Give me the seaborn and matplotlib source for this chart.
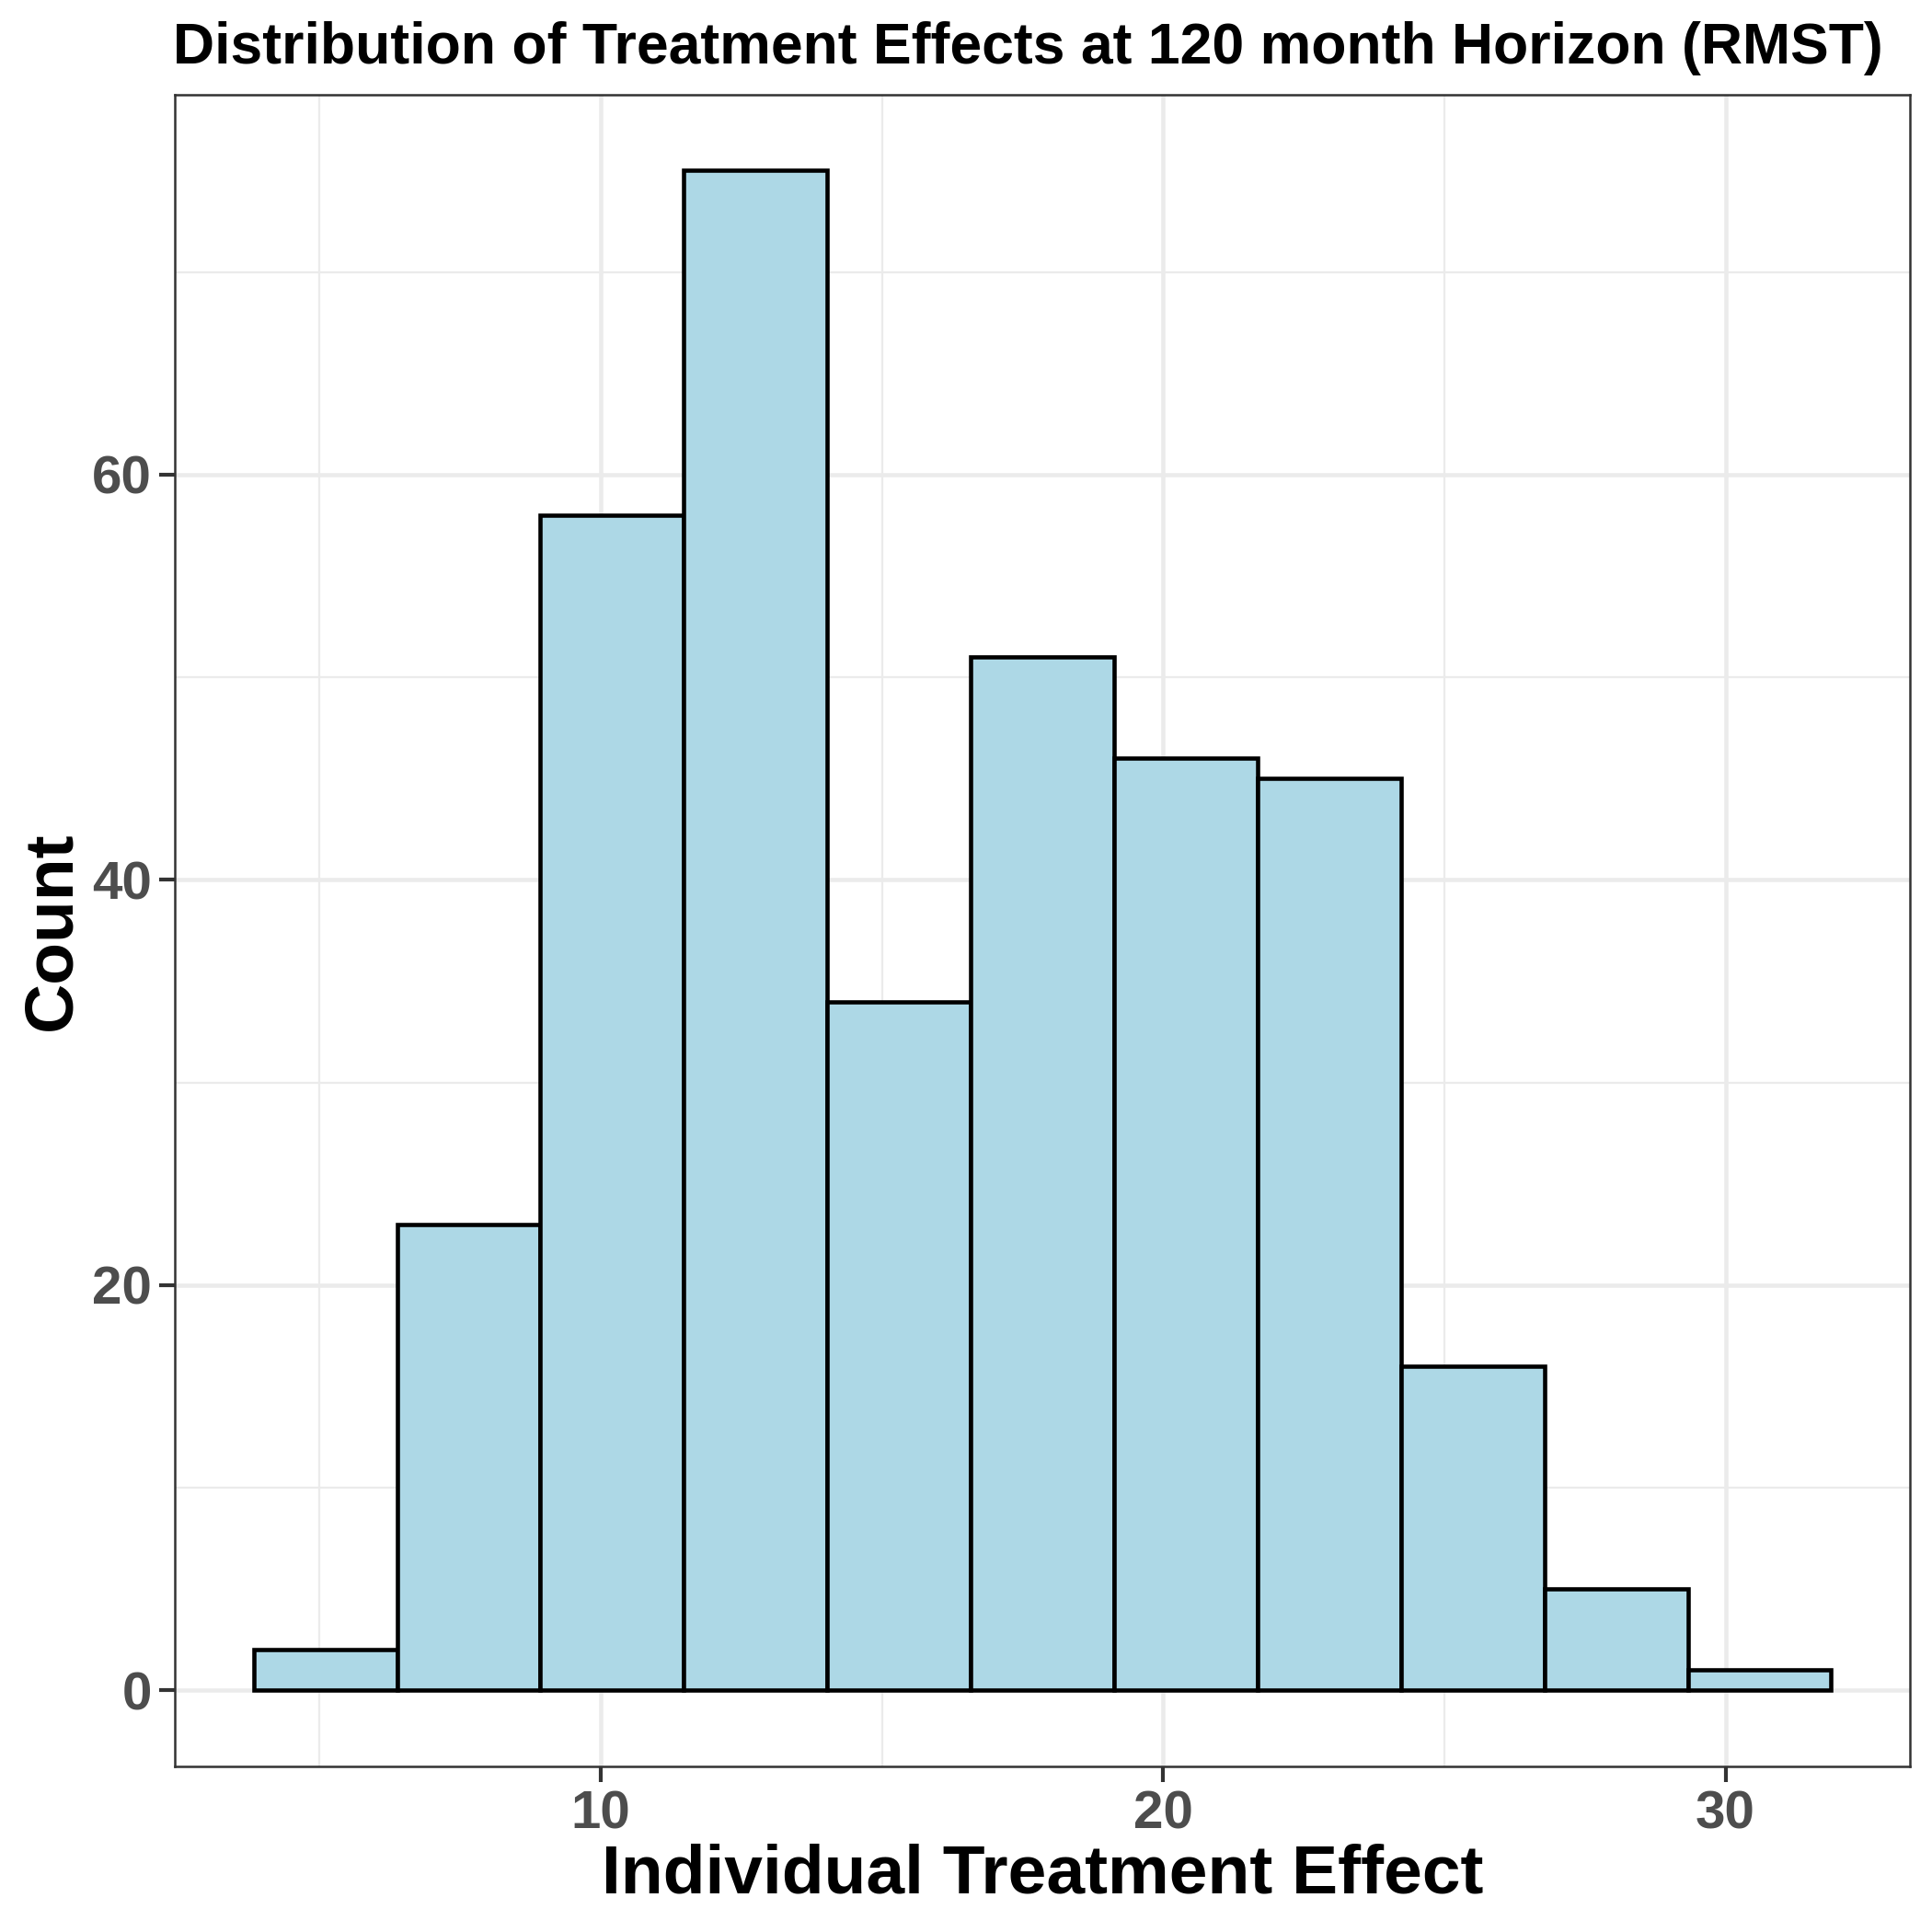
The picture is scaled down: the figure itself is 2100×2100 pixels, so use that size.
#Histogram of individual treatment effects (RMST, 120 month horizon)
#Counts per bin

import seaborn as sns
import matplotlib.pyplot as plt
import numpy as np
import pandas as pd

# bin edges and counts of the histogram
bin_edges = [3.83, 6.38, 8.93, 11.48, 14.03, 16.58, 19.13, 21.68, 24.23, 26.78, 29.33, 31.88]
counts = [2, 23, 58, 75, 34, 51, 46, 45, 16, 5, 1]

x_major = [10, 20, 30]
x_minor = [5, 15, 25, 35]
y_major = [0, 20, 40, 60]
y_minor = [10, 30, 50, 70]

sns.set_style("white")
plt.rcParams['font.family'] = ['Liberation Sans', 'DejaVu Sans']

edges = np.array(bin_edges)
df = pd.DataFrame({'effect': (edges[:-1] + edges[1:]) / 2, 'n': counts})

f = plt.figure(figsize=(7, 7), dpi=300)
ax = f.add_axes([0.0905, 0.0857, 0.9886 - 0.0905, 0.951 - 0.0857])

#Grid lines like ggplot theme_bw
for v in x_minor:
    ax.axvline(v, color='#EBEBEB', lw=0.55, zorder=0)
for v in y_minor:
    ax.axhline(v, color='#EBEBEB', lw=0.55, zorder=0)
for v in x_major:
    ax.axvline(v, color='#EBEBEB', lw=1.1, zorder=0)
for v in y_major:
    ax.axhline(v, color='#EBEBEB', lw=1.1, zorder=0)

sns.histplot(data=df, x='effect', weights='n', bins=list(bin_edges), color='#ADD8E6',
             edgecolor='black', linewidth=1.1, alpha=1, ax=ax, zorder=2)

ax.set_xlim(2.43, 33.28)
ax.set_ylim(-3.75, 78.75)
ax.set_xticks(x_major)
ax.set_yticks(y_major)
ax.tick_params(axis='both', length=4, width=1.0, color='#333333',
               labelsize=14, labelcolor='#4D4D4D', pad=2, direction='out',
               bottom=True, left=True)
for lab in ax.get_xticklabels() + ax.get_yticklabels():
    lab.set_fontweight('bold')
for s in ax.spines.values():
    s.set_color('#333333')
    s.set_linewidth(0.6)

ax.set_xlabel('Individual Treatment Effect', fontsize=18, fontweight='bold',
              color='black', labelpad=1)
ax.set_ylabel('Count', fontsize=18, fontweight='bold', color='black', labelpad=2)
f.text(0.532, 0.967, 'Distribution of Treatment Effects at 120 month Horizon (RMST)',
       ha='center', va='baseline', fontsize=15, fontweight='bold', color='black')

f.savefig('out.png', dpi=300)
